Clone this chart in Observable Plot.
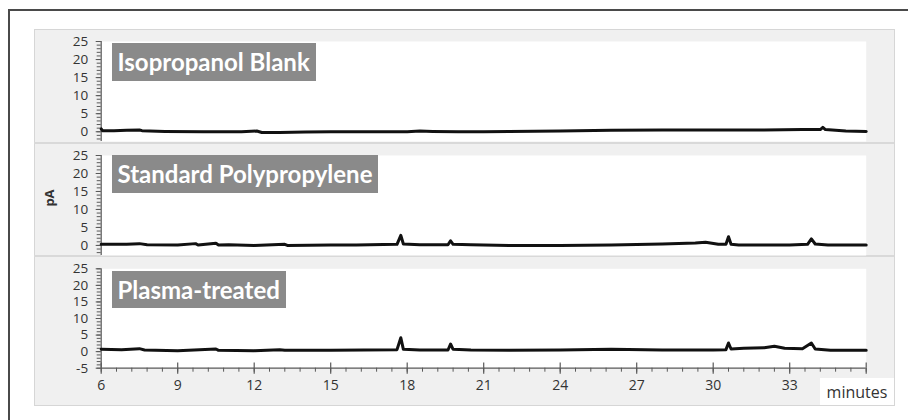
<!DOCTYPE html>
<html>
<head>
<meta charset="utf-8">
<script src="https://cdn.jsdelivr.net/npm/d3@7"></script>
<script src="https://cdn.jsdelivr.net/npm/@observablehq/plot@0.6"></script>
<style>
  html, body { margin: 0; padding: 0; background: #fff; }
  #wrap { position: relative; width: 908px; height: 420px; overflow: hidden; background: #fff; font-family: "Open Sans", sans-serif; }
  #frame { position: absolute; left: 8px; top: 9px; width: 1000px; height: 500px; border-top: 2px solid #4a4a4a; border-left: 2px solid #4a4a4a; }
  #panel { position: absolute; left: 34px; top: 29px; width: 859px; height: 375px; background: #f0f0f0; border: 1px solid #d6d6d6; }
  .sep { position: absolute; left: 34px; width: 860px; height: 2px; background: #d9d9d9; }
  .label { position: absolute; left: 111.5px; height: 37.5px; line-height: 37.5px; padding: 0 6px 0 6px; background: #8a8a8a; color: #fff; font-family: Lato, sans-serif; font-weight: 700; font-size: 24px; white-space: nowrap; }
  #ylab { position: absolute; left: 49px; top: 198px; transform: translate(-50%, -50%) rotate(-90deg); font-family: "Open Sans", sans-serif; font-weight: 700; font-size: 13px; color: #333; }
  #minutes { position: absolute; left: 820px; top: 378px; width: 74px; height: 27px; background: #fff; font-family: "Open Sans", sans-serif; font-size: 16px; color: #333; text-align: center; line-height: 28px; }
</style>
</head>
<body>
<div id="wrap">
  <div id="frame"></div>
  <div id="panel"></div>
</div>
<script>
// ---- data ----
const panelNames = ["Isopropanol Blank", "Standard Polypropylene", "Plasma-treated"];

const blankTime  = [6.0, 6.05, 6.5, 7.0, 7.5, 7.6, 8.5, 10, 11.5, 12.1, 12.3, 13, 14, 15, 16, 17, 18, 18.5, 19, 20, 21, 22, 24, 26, 28, 30, 32, 33.5, 34.2, 34.3, 34.4, 34.8, 35.2, 36];
const blankValue = [0.8, 0.3, 0.3, 0.4, 0.5, 0.3, 0.1, 0.0, 0.0, 0.2, -0.2, -0.2, -0.1, 0.0, 0.0, 0.0, 0.0, 0.2, 0.1, 0.0, 0.0, 0.1, 0.2, 0.4, 0.5, 0.5, 0.5, 0.6, 0.6, 1.2, 0.6, 0.4, 0.2, 0.1];

const stdTime  = [6.0, 7.0, 7.5, 7.8, 9.0, 9.7, 9.8, 10.5, 10.6, 11, 12, 13.2, 13.3, 15, 16, 17.6, 17.75, 17.85, 18.5, 19.6, 19.7, 19.8, 20.5, 22, 24, 26, 28, 29.3, 29.7, 30.2, 30.5, 30.6, 30.7, 31, 33, 33.7, 33.85, 34.0, 34.5, 36];
const stdValue = [0.3, 0.3, 0.5, 0.2, 0.1, 0.5, 0.1, 0.6, 0.1, 0.2, 0.0, 0.3, 0.0, 0.1, 0.1, 0.3, 2.8, 0.4, 0.2, 0.2, 1.3, 0.3, 0.2, 0.0, 0.0, 0.1, 0.4, 0.7, 0.9, 0.3, 0.3, 2.4, 0.3, 0.1, 0.1, 0.3, 1.8, 0.4, 0.1, 0.1];

const plasmaTime  = [6.0, 6.8, 7.5, 7.7, 9, 10.5, 10.6, 12, 13, 13.2, 15, 17.6, 17.75, 17.85, 18.5, 19.6, 19.7, 19.8, 20.5, 22, 24, 26, 28, 30, 30.5, 30.6, 30.7, 31.2, 32.0, 32.4, 32.8, 33.5, 33.85, 34.0, 34.6, 36];
const plasmaValue = [0.7, 0.6, 0.9, 0.5, 0.3, 0.8, 0.4, 0.3, 0.6, 0.4, 0.4, 0.6, 4.2, 0.7, 0.5, 0.5, 2.3, 0.7, 0.5, 0.4, 0.5, 0.7, 0.5, 0.5, 0.6, 2.6, 0.8, 1.0, 1.2, 1.6, 1.0, 0.9, 2.6, 0.8, 0.4, 0.4];

const yTickLabels = [0, 5, 10, 15, 20, 25];
const yTickLabelsBottom = [-5, 0, 5, 10, 15, 20, 25];
const xTickLabels = [6, 9, 12, 15, 18, 21, 24, 27, 30, 33];
const xDomain = [6, 36];

// ---- build ----
const series = [
  {time: blankTime, value: blankValue},
  {time: stdTime, value: stdValue},
  {time: plasmaTime, value: plasmaValue}
];

const layouts = [
  {top: 29, height: 114, mt: 12, mb: 2, ydom: [-2.7, 25], bottom: false, labelTop: 43.3},
  {top: 143, height: 113, mt: 12, mb: 1, ydom: [-2.8, 25], bottom: false, labelTop: 155},
  {top: 256, height: 149, mt: 12.3, mb: 37.3, ydom: [-5, 25], bottom: true, labelTop: 270.7}
];

const wrap = document.getElementById("wrap");
const axisColor = "#595959";
const textColor = "#333";

layouts.forEach((L, i) => {
  const data = series[i].time.map((t, k) => ({t, v: series[i].value[k]}));
  const yMinor = d3.range(Math.ceil(L.ydom[0]), 26, 1);
  const yMajor = L.bottom ? yTickLabelsBottom : yTickLabels;
  const marks = [
    Plot.frame({fill: "#fff", stroke: "none"}),
    Plot.axisY(yMinor, {tickSize: 4, text: null, label: null, stroke: axisColor, strokeWidth: 1}),
    Plot.axisY(yMajor, {tickSize: 5, tickPadding: 8, stroke: axisColor, fill: textColor, label: null, fontSize: 13.5, tickFormat: d => String(d)}),
    Plot.ruleX([xDomain[0]], {stroke: axisColor, strokeWidth: 1.2})
  ];
  if (L.bottom) {
    const xMinor = d3.range(xDomain[0], xDomain[1] + 0.001, 0.6);
    const xMajor = d3.range(xDomain[0], xDomain[1] + 0.001, 3);
    marks.push(
      Plot.ruleY([L.ydom[0]], {stroke: axisColor, strokeWidth: 1.2}),
      Plot.axisX(xMinor, {tickSize: 4, text: null, label: null, stroke: axisColor}),
      Plot.ruleX(xMajor, {y1: L.ydom[0], y2: L.ydom[0] + 1.6, stroke: axisColor, strokeWidth: 1.2}),
      Plot.axisX(xMajor, {tickSize: 6, text: null, label: null, stroke: axisColor, strokeWidth: 1.2}),
      Plot.axisX(xTickLabels, {tickSize: 0, tickPadding: 12, label: null, fontSize: 14, fill: textColor})
    );
  }
  marks.push(Plot.line(data, {x: "t", y: "v", stroke: "#111", strokeWidth: 3, strokeLinejoin: "round"}));

  const svg = Plot.plot({
    width: 860,
    height: L.height,
    marginLeft: 66.7,
    marginRight: 28.3,
    marginTop: L.mt,
    marginBottom: L.mb,
    x: {domain: xDomain, axis: null},
    y: {domain: L.ydom, axis: null},
    style: {background: "transparent", fontFamily: "'Open Sans', sans-serif", fontSize: "14px", color: textColor, overflow: "visible"},
    marks
  });
  svg.classList.add("plot");
  svg.style.position = "absolute";
  svg.style.left = "34px";
  svg.style.top = L.top + "px";
  wrap.appendChild(svg);

  const lab = document.createElement("div");
  lab.className = "label";
  lab.style.top = L.labelTop + "px";
  lab.textContent = panelNames[i];
  wrap.appendChild(lab);
});

[143, 256].forEach(y => {
  const s = document.createElement("div");
  s.className = "sep";
  s.style.top = (y - 1) + "px";
  wrap.insertBefore(s, wrap.querySelector(".plot"));
});

const yl = document.createElement("div");
yl.id = "ylab"; yl.textContent = "pA";
wrap.appendChild(yl);
const mn = document.createElement("div");
mn.id = "minutes"; mn.textContent = "minutes";
wrap.appendChild(mn);
</script>
</body>
</html>
